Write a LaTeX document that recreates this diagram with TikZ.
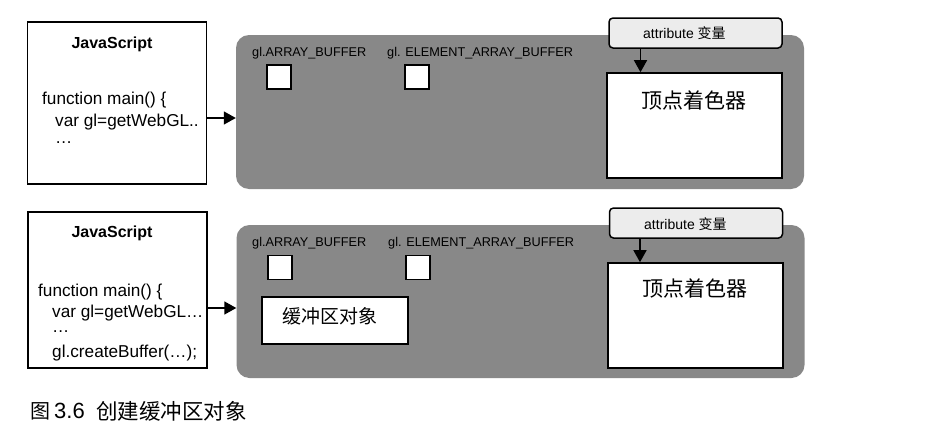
\documentclass[tikz,border=0pt]{standalone}
\usepackage{fontspec}
\setmainfont{Liberation Sans}
\newfontfamily\cjk{Noto Sans CJK SC}
\usetikzlibrary{arrows.meta}
\definecolor{panelgray}{RGB}{136,136,136}
\definecolor{attrfill}{RGB}{236,236,236}
\tikzset{
  jsbox/.style={draw=black, line width=1.6pt, fill=white, minimum width=179pt, inner sep=0pt},
  panel/.style={fill=panelgray, rounded corners=13pt, minimum width=568pt, minimum height=154pt, inner sep=0pt},
  attrbox/.style={draw=black, line width=1.5pt, fill=attrfill, rounded corners=4pt, minimum width=173pt, minimum height=30pt, inner sep=0pt},
  attrtext/.style={anchor=west, inner sep=0pt, font=\fontsize{14}{16}\selectfont},
  vsbox/.style={draw=black, line width=1.6pt, fill=white, minimum width=175pt, minimum height=105pt, inner sep=0pt},
  sq/.style={draw=black, line width=1.6pt, fill=white, minimum width=24pt, minimum height=24pt, inner sep=0pt},
  bufbox/.style={draw=black, line width=1.6pt, fill=white, minimum width=146pt, minimum height=47pt, inner sep=0pt},
  lbl/.style={anchor=west, inner sep=0pt, font=\fontsize{12.7}{14}\selectfont},
  code/.style={anchor=west, inner sep=0pt, font=\fontsize{17.2}{19}\selectfont},
  ttl/.style={inner sep=0pt, font=\fontsize{16}{18}\selectfont\bfseries},
  cjkbig/.style={inner sep=0pt, font=\fontsize{21}{23}\cjk},
  captext/.style={anchor=west, inner sep=0pt},
  arr/.style={line width=1.5pt, -{Triangle[length=12pt,width=13pt]}},
}
\begin{document}
\begin{tikzpicture}[x=1pt,y=-1pt]
\useasboundingbox (0,0) rectangle (946,431);
% ===== top =====
\node[jsbox, minimum height=162pt] (js1) at (117,103) {};
\node[ttl] (t1) at (112,44) {JavaScript};
\node[code] (c1a) at (42,100) {function main() \{};
\node[code] (c1b) at (55,122) {var gl=getWebGL..};
\node[code] (c1c) at (55,143) {\dots};
\node[panel] (p1) at (520,112) {};
\draw[arr] ([yshift=-15pt]js1.east) -- ([yshift=-6pt]p1.west);
\node[lbl] (l1a) at (252,53) {gl.ARRAY\_BUFFER};
\node[lbl] (l1b) at (387,53) {gl. ELEMENT\_ARRAY\_BUFFER};
\node[sq] (s1a) at (279,77) {};
\node[sq] (s1b) at (417,77) {};
\node[vsbox] (vs1) at (694.5,125.5) {};
\node[cjkbig] (vt1) at (694,100) {顶点着色器};
\node[attrbox] (a1) at (695.5,33) {};
\node[attrtext] (at1) at (643,33) {attribute {\cjk 变量}};
\draw[arr] ([xshift=-55pt]a1.south) -- ([xshift=-54pt]vs1.north);
% ===== bottom =====
\node[jsbox, minimum height=156pt] (js2) at (117.5,290) {};
\node[ttl] (t2) at (112,233) {JavaScript};
\node[code] (c2a) at (38,292) {function main() \{};
\node[code] (c2b) at (52,313) {var gl=getWebGL\dots};
\node[code] (c2c) at (52,332) {\dots};
\node[code] (c2d) at (52,353) {gl.createBuffer(\dots);};
\node[panel, minimum height=153pt] (p2) at (520.5,301.5) {};
\draw[arr] ([yshift=-18pt]js2.east) -- ([yshift=-6.5pt]p2.west);
\node[lbl] (l2a) at (252,243) {gl.ARRAY\_BUFFER};
\node[lbl] (l2b) at (388,243) {gl. ELEMENT\_ARRAY\_BUFFER};
\node[sq] (s2a) at (280,267.5) {};
\node[sq] (s2b) at (418,267.5) {};
\node[bufbox] (b2) at (335,320.5) {};
\node[inner sep=0pt, font=\fontsize{19}{21}\cjk] (bt2) at (330,316) {缓冲区对象};
\node[vsbox] (vs2) at (695.5,315.5) {};
\node[cjkbig] (vt2) at (695,288) {顶点着色器};
\node[attrbox] (a2) at (696,223) {};
\node[attrtext] (at2) at (644,224) {attribute {\cjk 变量}};
\draw[arr] ([xshift=-56pt]a2.south) -- ([xshift=-55.5pt]vs2.north);
% caption
\node[captext, font=\fontsize{20}{22}\cjk] (cap1) at (30,411) {图};
\node[captext, font=\fontsize{22}{24}\selectfont] (cap2) at (54,411) {3.6};
\node[captext, font=\fontsize{21.5}{23}\cjk] (cap3) at (96,411) {创建缓冲区对象};
\end{tikzpicture}
\end{document}
